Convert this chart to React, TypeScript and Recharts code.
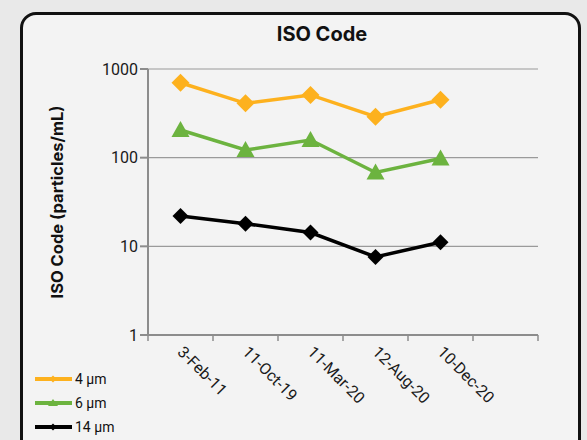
import { LineChart, Line, XAxis, YAxis, CartesianGrid, Legend } from 'recharts';

// sample dates and particle counts per size class (log scale)
const dates = ['3-Feb-11', '11-Oct-19', '11-Mar-20', '12-Aug-20', '10-Dec-20', ''];
const um4 = [700, 410, 510, 290, 450];
const um6 = [205, 122, 158, 68, 98];
const um14 = [22, 18, 14.3, 7.6, 11.1];
const yTicks = [1, 10, 100, 1000];
const seriesOrder = ['4 µm', '6 µm', '14 µm'];

const data = dates.map((d, i) => ({ date: d, um4: um4[i], um6: um6[i], um14: um14[i] }));

const ORANGE = '#FDB11E';
const GREEN = '#6CB33F';
const BLACK = '#000000';
const AXIS = '#8c8c8c';
const TICK_GAP = 14;

const diamond = (fill: string, r: number) => (p: any) => {
  const { cx, cy, index } = p;
  if (cx == null || cy == null) return <g key={index} />;
  return (
    <polygon key={index} fill={fill}
      points={`${cx},${cy - r} ${cx + r},${cy} ${cx},${cy + r} ${cx - r},${cy}`} />
  );
};

const triangle = (fill: string) => (p: any) => {
  const { cx, cy, index } = p;
  if (cx == null || cy == null) return <g key={index} />;
  return <polygon key={index} fill={fill} points={`${cx},${cy - 9} ${cx + 9},${cy + 7} ${cx - 9},${cy + 7}`} />;
};

// label at the band centre, tick marks on the band edges (Excel style)
const DateTick = ({ x, y, payload, index }: any) => {
  const half = payload.offset || 0;
  const y0 = y - TICK_GAP;
  const last = index === dates.length - 1;
  return (
    <g>
      <line x1={x - half} x2={x - half} y1={y0} y2={y0 + 6} stroke={AXIS} strokeWidth={1.5} />
      {last && <line x1={x + half} x2={x + half} y1={y0} y2={y0 + 6} stroke={AXIS} strokeWidth={1.5} />}
      <text x={x} y={y} transform={`rotate(45 ${x} ${y})`} textAnchor="start" dy="0.35em"
        fontSize={16} fill="#1a1a1a" fontFamily="Roboto, sans-serif">
        {payload.value}
      </text>
    </g>
  );
};

const YLabel = ({ viewBox }: any) => {
  const cx = 57;
  const cy = viewBox.y + viewBox.height / 2;
  return (
    <text x={cx} y={cy} transform={`rotate(-90 ${cx} ${cy})`} textAnchor="middle" dominantBaseline="central"
      fontSize={16.5} fontWeight={700} fill="#111" fontFamily="Inter, sans-serif">
      ISO Code (particles/mL)
    </text>
  );
};

const markerFor = (name: string, color: string) => {
  if (name === '6 µm') return <polygon points="18,1 23,8 13,8" fill={color} />;
  return <polygon points="18,1.5 21.5,5 18,8.5 14.5,5" fill={color} />;
};

const LegendBox = ({ payload }: any) => {
  const items = [...(payload || [])].sort((a: any, b: any) => seriesOrder.indexOf(a.value) - seriesOrder.indexOf(b.value));
  return (
    <div style={{ display: 'flex', flexDirection: 'column', gap: 6 }}>
      {items.map((e: any) => (
        <div key={e.value} style={{ display: 'flex', alignItems: 'center', height: 18 }}>
          <svg width={37} height={10}>
            <line x1={0} y1={5} x2={37} y2={5} stroke={e.color} strokeWidth={4} />
            {markerFor(e.value, e.color)}
          </svg>
          <span style={{ fontSize: 14, color: '#111', fontFamily: 'Roboto, sans-serif', marginLeft: 3 }}>{e.value}</span>
        </div>
      ))}
    </div>
  );
};

export default function App() {
  return (
    <div style={{ position: 'absolute', left: 0, top: 0, width: 587, height: 440, overflow: 'hidden', background: '#e9e9e9' }}>
      <div style={{
        position: 'absolute', left: 20, top: 12, width: 555, height: 460,
        border: '3px solid #111', borderRadius: 16, background: '#f3f3f3',
      }} />
      <div style={{
        position: 'absolute', left: 20, top: 22, width: 604, textAlign: 'center',
        fontFamily: 'Inter, sans-serif', fontWeight: 700, fontSize: 20, color: '#111',
      }}>ISO Code</div>
      <div style={{ position: 'absolute', left: 0, top: 0 }}>
        <LineChart width={587} height={440} data={data} margin={{ top: 69, right: 49, left: 50, bottom: 5 }}>
          <CartesianGrid vertical={false} stroke="#9a9a9a" strokeWidth={1.2} />
          <XAxis dataKey="date" scale="band" tick={<DateTick />} tickLine={false}
            axisLine={{ stroke: AXIS, strokeWidth: 2 }}
            tickSize={0} tickMargin={TICK_GAP} height={100} interval={0} />
          <YAxis scale="log" domain={[1, 1000]} ticks={yTicks} allowDataOverflow width={98}
            stroke={AXIS} strokeWidth={2} tickSize={8}
            tick={{ fontSize: 16, fill: '#1a1a1a', fontFamily: 'Roboto, sans-serif' }}
            label={<YLabel />} />
          <Legend layout="horizontal" verticalAlign="middle" align="center"
            wrapperStyle={{ left: 35, top: 370, width: 'auto' }} content={<LegendBox />} />
          <Line name="4 µm" dataKey="um4" stroke={ORANGE} strokeWidth={3.5} dot={diamond(ORANGE, 9)}
            activeDot={false} isAnimationActive={false} />
          <Line name="6 µm" dataKey="um6" stroke={GREEN} strokeWidth={3.5} dot={triangle(GREEN)}
            activeDot={false} isAnimationActive={false} />
          <Line name="14 µm" dataKey="um14" stroke={BLACK} strokeWidth={3.5} dot={diamond(BLACK, 8)}
            activeDot={false} isAnimationActive={false} />
        </LineChart>
      </div>
    </div>
  );
}
